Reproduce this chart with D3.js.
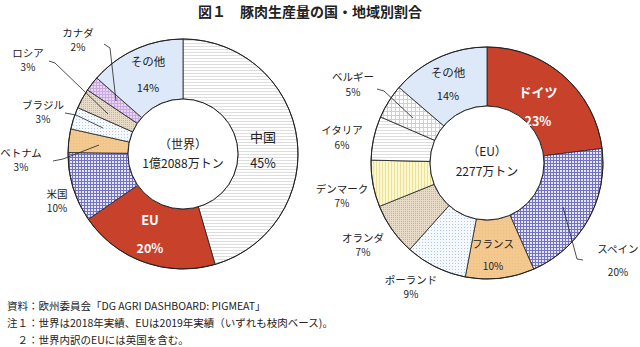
<!DOCTYPE html>
<html><head><meta charset="utf-8">
<script src="https://cdn.jsdelivr.net/npm/d3@7"></script>
<style>
html,body{margin:0;padding:0;background:#fff;}
svg{display:block;font-family:"Noto Sans CJK JP","Noto Sans",sans-serif;}
</style></head>
<body>
<svg id="c" width="640" height="347"></svg>
<script>
// ---- data ----
const worldCats   = ["中国","EU","米国","ベトナム","ブラジル","ロシア","カナダ","その他"];
const worldValues = [45.5, 19.9, 9.8, 3.3, 3.1, 2.8, 2.1, 13.5];
const worldLabels = ["45%","20%","10%","3%","3%","3%","2%","14%"];

const euCats   = ["ドイツ","スペイン","フランス","ポーランド","オランダ","デンマーク","イタリア","ベルギー","その他"];
const euValues = [23.0, 20.4, 9.6, 8.6, 7.3, 6.5, 6.1, 4.8, 13.7];
const euLabels = ["23%","20%","10%","9%","7%","7%","6%","5%","14%"];

const titleText = "図１　豚肉生産量の国・地域別割合";
const worldCenter = ["（世界）","1億2088万トン"];
const euCenter = ["（EU）","2277万トン"];
const notes = ["資料：欧州委員会「DG AGRI DASHBOARD: PIGMEAT」",
               "注１：世界は2018年実績、EUは2019年実績（いずれも枝肉ベース)。",
               "　２：世界内訳のEUには英国を含む。"];

// ---- styles ----
const fillWorld = ["url(#pStripe)","#c8422b","url(#pBlue)","url(#pTan)","url(#pDots)","url(#pBeige)","url(#pPurple)","#dde9f8"];
const fillEU    = ["#c8422b","url(#pBlue)","url(#pTan)","url(#pDots)","url(#pBeige)","url(#pYellow)","url(#pStripe)","url(#pPink)","#dde9f8"];

// label layout: [x, y name, y pct, size, color]
const worldLabelPos = [
  [263,137,164,13,"#222"],[150,220,249,13,"#fff"],[57,194,208,10.5,"#222"],[21,153,167,10.5,"#222"],
  [43,105,119,10.5,"#222"],[28,53,67,10.5,"#222"],[78,33,47,10.5,"#222"],[148,62,88,11.5,"#222"]];
const euLabelPos = [
  [538,92,122,13,"#fff"],[618,249,272,10.5,"#222"],[493,244,266,10.5,"#222"],[411,280,294,10.5,"#222"],
  [363,238,252,10.5,"#222"],[342,189,203,10.5,"#222"],[342,130,145,10.5,"#222"],[353,77,92,10.5,"#222"],[448,73,96,11.5,"#222"]];
const worldLeaders = [
  [[53,161],[63,159],[99,145]],
  [[65,113],[76,115],[103,128]],
  [[49,61],[55,63],[108,114]],
  [[104,44],[110,48],[116,101]]];
const euLeaders = [
  [[377,89],[384,91],[413,118]],
  [[583,260],[577,259],[563,207]]];

const svg = d3.select("#c");
const defs = svg.append("defs");
function pat(id, w, h, bg, draw){
  const p = defs.append("pattern").attr("id",id).attr("patternUnits","userSpaceOnUse").attr("width",w).attr("height",h);
  p.append("rect").attr("width",w).attr("height",h).attr("fill",bg);
  draw(p);
}
pat("pStripe",3,3,"#ffffff",p=>p.append("path").attr("d","M0 0.5H3").attr("stroke","#dedede").attr("stroke-width",1));
pat("pBlue",3,3,"#e6e6f6",p=>p.append("path").attr("d","M0 0.5H3M0.5 0V3").attr("stroke","#7272c4").attr("stroke-width",1));
pat("pTan",3,3,"#f3c98f",p=>p.append("rect").attr("x",1).attr("y",1).attr("width",1).attr("height",1).attr("fill","#ebbe82"));
pat("pDots",3,3,"#f5f9fd",p=>p.append("rect").attr("x",1).attr("y",1).attr("width",1).attr("height",1).attr("fill","#b2c8e2"));
pat("pBeige",2,2,"#e8dcc8",p=>p.append("rect").attr("x",0).attr("y",0).attr("width",1).attr("height",1).attr("fill","#c4b498"));
pat("pPurple",3,3,"#ead6f2",p=>p.append("path").attr("d","M0 0.5H3M0.5 0V3").attr("stroke","#c8a8e0").attr("stroke-width",1));
pat("pPink",4,4,"#ffffff",p=>p.append("path").attr("d","M0 0.5H4M0.5 0V4").attr("stroke","#f4c0c0").attr("stroke-width",1));
pat("pYellow",3,3,"#fbf7cf",p=>p.append("path").attr("d","M0.5 0V3").attr("stroke","#ece196").attr("stroke-width",1));

svg.append("text").attr("x",198).attr("y",16.5).attr("font-size",14).attr("font-weight","bold")
  .attr("fill","#222").text(titleText);

function donut(cx, cy, R, r, values, fills){
  const pie = d3.pie().sort(null).value(d=>d)(values);
  const arc = d3.arc().innerRadius(r).outerRadius(R);
  const g = svg.append("g").attr("transform",`translate(${cx},${cy})`);
  g.selectAll("path").data(pie).join("path")
    .attr("d",arc).attr("fill",(d,i)=>fills[i])
    .attr("stroke","#222").attr("stroke-width",0.8);
  g.append("circle").attr("r",R).attr("fill","none").attr("stroke","#222").attr("stroke-width",1);
  g.append("circle").attr("r",r).attr("fill","#fff").attr("stroke","#222").attr("stroke-width",1);
}
donut(183,154,115,55,worldValues,fillWorld);
donut(487,163,116,57,euValues,fillEU);

const line = d3.line();
[...worldLeaders,...euLeaders].forEach(pts=>{
  svg.append("path").attr("d",line(pts)).attr("fill","none").attr("stroke","#222").attr("stroke-width",0.8);
});

function twoLine(x, y1, y2, fs1, fs2, col, weight, a, b){
  const t = svg.append("text").attr("text-anchor","middle").attr("fill",col).attr("font-weight",weight);
  t.append("tspan").attr("x",x).attr("y",y1).attr("dy","0.35em").attr("font-size",fs1).text(a);
  t.append("tspan").attr("x",x).attr("y",y2).attr("dy","0.35em").attr("font-size",fs2).text(b);
}
function labels(cats, pcts, pos){
  cats.forEach((c,i)=>{
    const [x,y1,y2,fs,col] = pos[i];
    twoLine(x,y1,y2,fs,fs-0.5,col,col==="#fff"?"bold":"normal",c,pcts[i]);
  });
}
labels(worldCats, worldLabels, worldLabelPos);
labels(euCats, euLabels, euLabelPos);

twoLine(183,145,164,12,12,"#222","normal",worldCenter[0],worldCenter[1]);
twoLine(487,152,172,12,12,"#222","normal",euCenter[0],euCenter[1]);

notes.forEach((t,i)=>{
  svg.append("text").attr("x",7).attr("y",306+i*17).attr("dy","0.35em").attr("font-size",10.5).attr("fill","#222").text(t);
});
</script>
</body></html>
